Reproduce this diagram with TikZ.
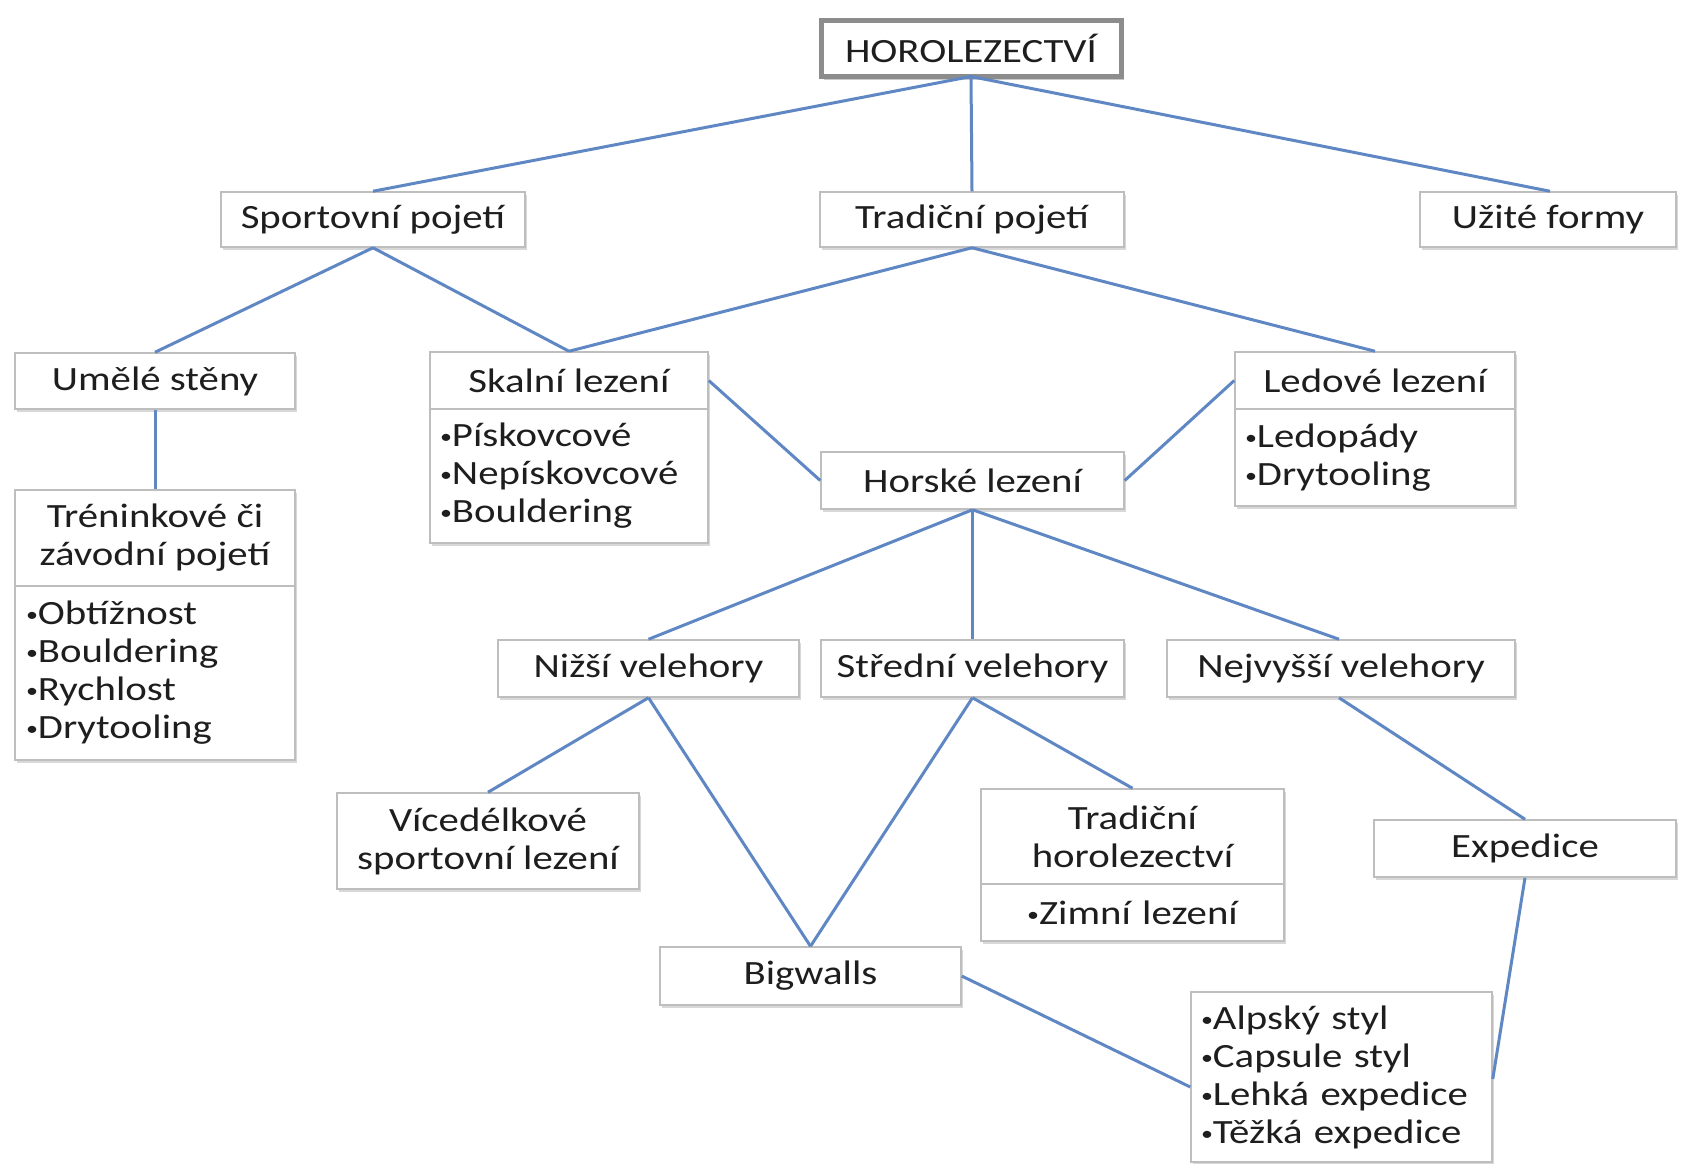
\documentclass[tikz,border=0pt]{standalone}
\usepackage{fontspec}
\setmainfont{Carlito}[FakeStretch=1.2]
\usetikzlibrary{shadows}
\definecolor{linkblue}{RGB}{95,135,195}
\definecolor{boxgray}{RGB}{190,190,190}
\definecolor{txt}{RGB}{30,30,30}
\newcommand{\bul}{{\fontsize{20}{38}\selectfont\raisebox{3pt}{•}}}
\tikzset{
  box/.style={draw=boxgray, line width=1.5pt, fill=white, rectangle, inner sep=0pt,
    text=txt, font=\fontsize{34}{38}\selectfont, align=center,
    drop shadow={shadow xshift=2pt, shadow yshift=-3pt, opacity=0.25, fill=black!60}},
  listbox/.style={box, align=left},
  topbox/.style={box, draw=black!45, line width=5pt,
    drop shadow={shadow xshift=3pt, shadow yshift=-4pt, opacity=0.35, fill=black!60}},
  link/.style={draw=linkblue, line width=3pt},
}
\begin{document}
\begin{tikzpicture}[x=1pt,y=-1pt]
\useasboundingbox (0,0) rectangle (1687,1163);
\fill[white] (0,0) rectangle (1687,1163);

% level 0
\node[topbox, minimum width=300, minimum height=56] (top) at (971,48) {HOROLEZECTVÍ};

% level 1
\node[box, minimum width=304, minimum height=55] (sport) at (373,219.5) {Sportovní pojetí};
\node[box, minimum width=304, minimum height=55] (trad) at (972,219.5) {Tradiční pojetí};
\node[box, minimum width=256, minimum height=55] (uzite) at (1548,219.5) {Užité formy};

% level 2
\node[box, minimum width=280, minimum height=56] (umele) at (155,381) {Umělé stěny};
\node[box, minimum width=278, minimum height=57] (skalni) at (569,380.5) {Skalní lezení};
\node[listbox, minimum width=278, minimum height=134, text width=258] (skalnilist) at (569,476)
  {\bul Pískovcové\\\bul Nepískovcové\\\bul Bouldering};
\node[box, minimum width=280, minimum height=57] (ledove) at (1375,380.5) {Ledové lezení};
\node[listbox, minimum width=280, minimum height=97, text width=260] (ledovelist) at (1375,457.5)
  {\bul Ledopády\\\bul Drytooling};
\node[box, minimum width=303, minimum height=57] (horske) at (972.5,480.5) {Horské lezení};

% trenink
\node[box, minimum width=280, minimum height=96] (trenink) at (155,538) {Tréninkové či\\závodní pojetí};
\node[listbox, minimum width=280, minimum height=174, text width=258] (treninklist) at (155,673)
  {\bul Obtížnost\\\bul Bouldering\\\bul Rychlost\\\bul Drytooling};

% level 3
\node[box, minimum width=301, minimum height=57] (nizsi) at (648.5,668.5) {Nižší velehory};
\node[box, minimum width=303, minimum height=57] (stredni) at (972.5,668.5) {Střední velehory};
\node[box, minimum width=348, minimum height=57] (nejvyssi) at (1341,668.5) {Nejvyšší velehory};

% level 4
\node[box, minimum width=302, minimum height=96] (vicedelk) at (488,841) {Vícedélkové\\sportovní lezení};
\node[box, minimum width=303, minimum height=95] (tradhor) at (1132.5,836.5) {Tradiční\\horolezectví};
\node[listbox, minimum width=303, minimum height=57, text width=283, align=center] (tradhorlist) at (1132.5,912.5)
  {\bul Zimní lezení};
\node[box, minimum width=302, minimum height=57] (expedice) at (1525,848.5) {Expedice};
\node[box, minimum width=301, minimum height=58] (bigwalls) at (810.5,976) {Bigwalls};
\node[listbox, minimum width=301, minimum height=170, text width=281] (styles) at (1341.5,1077)
  {\bul Alpský styl\\\bul Capsule styl\\\bul Lehká expedice\\\bul Těžká expedice};

% connectors
\draw[link] ([yshift=2pt]top.south) -- (sport.north);
\draw[link] ([yshift=2pt]top.south) -- (trad.north);
\draw[link] ([yshift=2pt]top.south) -- ([xshift=2pt]uzite.north);
\draw[link] (sport.south) -- (umele.north);
\draw[link] (sport.south) -- (skalni.north);
\draw[link] (trad.south) -- (skalni.north);
\draw[link] (trad.south) -- (ledove.north);
\draw[link] (umele.south) -- (trenink.north);
\draw[link] (skalni.east) -- (horske.west);
\draw[link] (ledove.west) -- (horske.east);
\draw[link] (horske.south) -- (nizsi.north);
\draw[link] (horske.south) -- (stredni.north);
\draw[link] (horske.south) -- ([xshift=-2pt]nejvyssi.north);
\draw[link] (nizsi.south) -- (vicedelk.north);
\draw[link] (nizsi.south) -- (bigwalls.north);
\draw[link] (stredni.south) -- (bigwalls.north);
\draw[link] (stredni.south) -- (tradhor.north);
\draw[link] ([xshift=-2pt]nejvyssi.south) -- (expedice.north);
\draw[link] (expedice.south) -- ([yshift=-2pt]styles.east);
\draw[link] (bigwalls.east) -- ([yshift=-10pt]styles.west);
\end{tikzpicture}
\end{document}
